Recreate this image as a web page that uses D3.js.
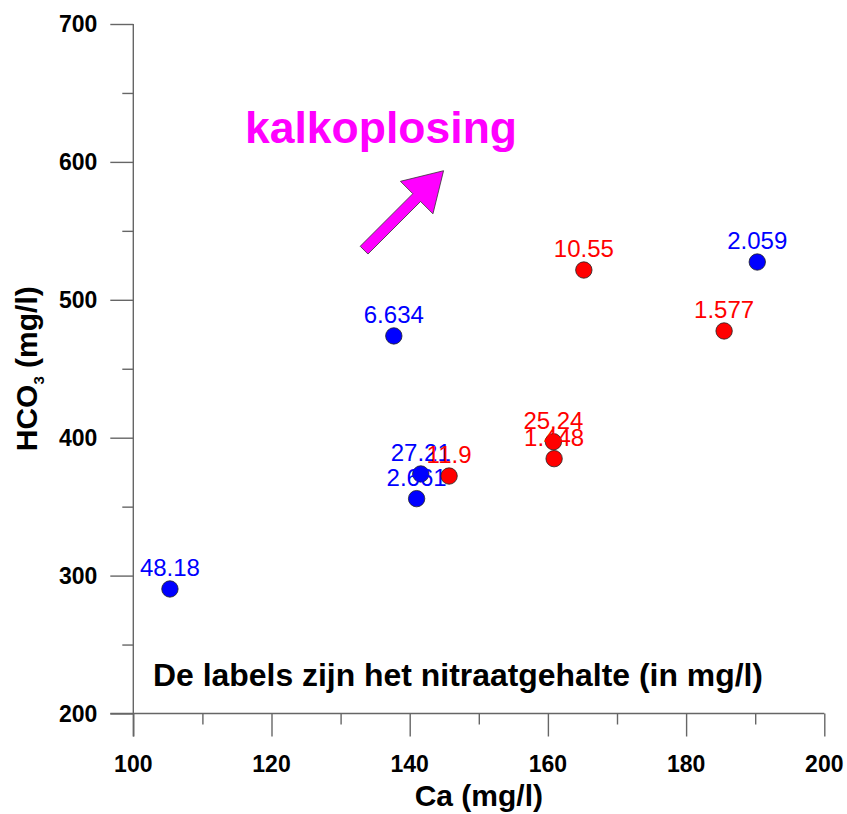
<!DOCTYPE html>
<html>
<head>
<meta charset="utf-8">
<script src="https://cdn.jsdelivr.net/npm/d3@7"></script>
<style>
  body { margin: 0; background: #fff; }
  svg text { font-family: "Liberation Sans", Arial, sans-serif; }
</style>
</head>
<body>
<div id="chart"></div>
<script>
// Ca (mg/l), HCO3 (mg/l), nitraat label
var caBlue = [105.3, 137.7, 141.6, 141.0, 190.3];
var hco3Blue = [290.3, 473.8, 373.7, 355.8, 527.4];
var labelsBlue = ["48.18", "6.634", "27.21", "2.661", "2.059"];

var caRed = [145.7, 160.8, 160.9, 165.2, 185.5];
var hco3Red = [372.2, 397.1, 384.8, 521.6, 477.4];
var labelsRed = ["11.9", "25.24", "1.448", "10.55", "1.577"];

var xTicks = [100, 120, 140, 160, 180, 200];
var yTicks = [200, 300, 400, 500, 600, 700];

var width = 847, height = 814;
var margin = {left: 133.3, right: 22.7, top: 24, bottom: 100.5};

var svg = d3.select("#chart").append("svg")
	.attr("width", width).attr("height", height);

var x = d3.scaleLinear().domain([100, 200]).range([margin.left, width - margin.right]);
var y = d3.scaleLinear().domain([200, 700]).range([height - margin.bottom, margin.top]);

var axisColor = "#666";

// x axis
var xAxis = svg.append("g").attr("transform", "translate(0," + y(200) + ")");
xAxis.call(d3.axisBottom(x).tickValues(d3.range(100, 201, 10)).tickSize(11).tickFormat(""));
xAxis.call(function(g){
	g.select(".domain").remove();
	g.selectAll(".tick line").attr("stroke", axisColor).attr("stroke-width", 1.4);
	g.selectAll(".tick").filter(function(d){ return Math.round(d) % 20 === 0; })
		.select("line").attr("y2", 23);
});
xAxis.append("line").attr("x1", x(100) - 23).attr("x2", x(200)).attr("y1", 0).attr("y2", 0)
	.attr("stroke", axisColor).attr("stroke-width", 1.4);
xAxis.selectAll(".lbl").data(xTicks).enter().append("text")
	.attr("class", "lbl").attr("fill", "#000")
	.attr("x", function(d){ return x(d); }).attr("y", 58)
	.attr("text-anchor", "middle").attr("font-size", 23).attr("font-weight", "bold")
	.text(function(d){ return d; });

// y axis
var yAxis = svg.append("g").attr("transform", "translate(" + x(100) + ",0)");
yAxis.call(d3.axisLeft(y).tickValues(d3.range(200, 701, 50)).tickSize(11).tickFormat(""));
yAxis.call(function(g){
	g.select(".domain").remove();
	g.selectAll(".tick line").attr("stroke", axisColor).attr("stroke-width", 1.4);
	g.selectAll(".tick").filter(function(d){ return Math.round(d) % 100 === 0; })
		.select("line").attr("x2", -23);
});
yAxis.append("line").attr("x1", 0).attr("x2", 0).attr("y1", y(700)).attr("y2", y(200) + 23)
	.attr("stroke", axisColor).attr("stroke-width", 1.4);
yAxis.selectAll(".lbl").data(yTicks).enter().append("text")
	.attr("class", "lbl").attr("fill", "#000")
	.attr("x", -36).attr("y", function(d){ return y(d); }).attr("dy", "0.36em")
	.attr("text-anchor", "end").attr("font-size", 23).attr("font-weight", "bold")
	.text(function(d){ return d; });

// axis titles
svg.append("text").attr("x", (x(100) + x(200)) / 2).attr("y", 806)
	.attr("text-anchor", "middle").attr("font-size", 30).attr("font-weight", "bold")
	.text("Ca (mg/l)");

var yt = svg.append("text")
	.attr("transform", "translate(37," + (y(200) + y(700)) / 2 + ") rotate(-90)")
	.attr("text-anchor", "middle").attr("font-size", 30).attr("font-weight", "bold");
yt.append("tspan").text("HCO");
yt.append("tspan").attr("font-size", 15).attr("dy", 7).text("3");
yt.append("tspan").attr("dy", -7).text(" (mg/l)");

// annotation text
svg.append("text").attr("x", 245).attr("y", 143)
	.attr("font-size", 44.5).attr("font-weight", "bold").attr("fill", "#ff00ff")
	.text("kalkoplosing");

// arrow: tail -> tip
var tail = [x(133.4), y(536)], tip = [x(144.9), y(593.6)];
var dx = tip[0] - tail[0], dy = tip[1] - tail[1];
var len = Math.sqrt(dx * dx + dy * dy);
var ux = dx / len, uy = dy / len, px = -uy, py = ux;
var headLen = 38, headW = 23, shaftW = 5.5;
var bx = tip[0] - ux * headLen, by = tip[1] - uy * headLen;
var pts = [
	[tail[0] + px * shaftW, tail[1] + py * shaftW],
	[bx + px * shaftW, by + py * shaftW],
	[bx + px * headW, by + py * headW],
	tip,
	[bx - px * headW, by - py * headW],
	[bx - px * shaftW, by - py * shaftW],
	[tail[0] - px * shaftW, tail[1] - py * shaftW]
];
svg.append("path").attr("d", d3.line()(pts) + "Z")
	.attr("fill", "#ff00ff").attr("stroke", "#333").attr("stroke-width", 0.8);

// footnote
svg.append("text").attr("x", 153).attr("y", 686)
	.attr("font-size", 31).attr("font-weight", "bold")
	.attr("textLength", 610).attr("lengthAdjust", "spacingAndGlyphs")
	.text("De labels zijn het nitraatgehalte (in mg/l)");

// points
function drawSeries(cas, hco3s, labels, color) {
	var data = cas.map(function(c, i){ return {ca: c, hco3: hco3s[i], label: labels[i]}; });
	var g = svg.append("g");
	g.selectAll("circle").data(data).enter().append("circle")
		.attr("cx", function(d){ return x(d.ca); })
		.attr("cy", function(d){ return y(d.hco3); })
		.attr("r", 8.2)
		.attr("fill", color).attr("stroke", "#222").attr("stroke-width", 0.8);
	return {g: g, data: data};
}
function drawLabels(s, color) {
	s.g.selectAll("text").data(s.data).enter().append("text")
		.attr("x", function(d){ return x(d.ca); })
		.attr("y", function(d){ return y(d.hco3) - 12.7; })
		.attr("text-anchor", "middle").attr("font-size", 24).attr("fill", color)
		.text(function(d){ return d.label; });
}
var blue = drawSeries(caBlue, hco3Blue, labelsBlue, "#0000ff");
drawLabels(blue, "#0000ff");
var red = drawSeries(caRed, hco3Red, labelsRed, "#ff0000");
drawLabels(red, "#ff0000");
</script>
</body>
</html>
